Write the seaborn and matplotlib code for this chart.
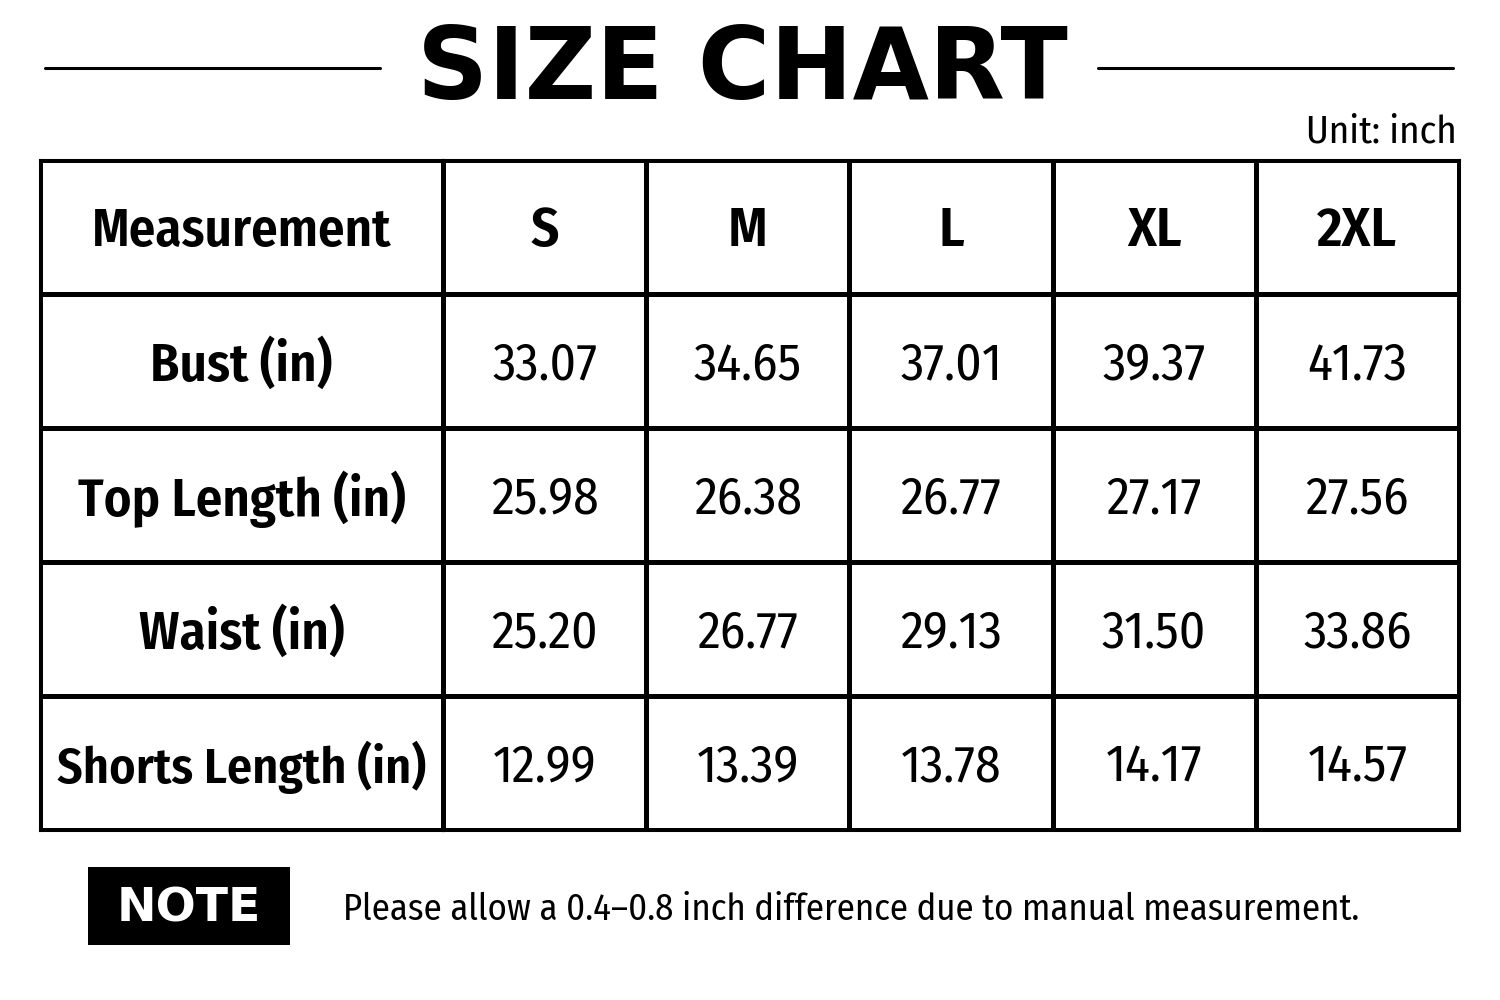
import numpy as np
import matplotlib
matplotlib.use("Agg")
import matplotlib.pyplot as plt
from matplotlib.colors import ListedColormap
from matplotlib.lines import Line2D
from matplotlib.patches import Rectangle
import seaborn as sns

sns.set_theme(style="white")
plt.rcParams['font.family'] = ['Fira Sans Condensed', 'DejaVu Sans']

# table data
measurements = ["Bust (in)", "Top Length (in)", "Waist (in)", "Shorts Length (in)"]
sizes = ["S", "M", "L", "XL", "2XL"]
bust = [33.07, 34.65, 37.01, 39.37, 41.73]
top_length = [25.98, 26.38, 26.77, 27.17, 27.56]
waist = [25.20, 26.77, 29.13, 31.50, 33.86]
shorts_length = [12.99, 13.39, 13.78, 14.17, 14.57]

values = np.array([bust, top_length, waist, shorts_length])

fig = plt.figure(figsize=(15, 10), dpi=100)
fig.patch.set_facecolor("white")

white = ListedColormap(["white"])
lw = 2.2

# first column (row labels)
ax_lab = fig.add_axes([40 / 1500, 0.17, 403 / 1500, 0.67])
lab_text = np.array([["Measurement"] + measurements]).T
sns.heatmap(np.zeros(lab_text.shape), ax=ax_lab, cmap=white, cbar=False,
            annot=lab_text, fmt="", linewidths=lw, linecolor="black",
            annot_kws={"fontsize": 38, "fontweight": "semibold", "color": "black"},
            xticklabels=False, yticklabels=False)
ax_lab.texts[-1].set_fontsize(36)

# size columns
ax_val = fig.add_axes([443 / 1500, 0.17, 1016 / 1500, 0.67])
val_text = np.vstack([sizes, [[f"{v:.2f}" for v in row] for row in values]])
sns.heatmap(np.zeros(val_text.shape), ax=ax_val, cmap=white, cbar=False,
            annot=val_text, fmt="", linewidths=lw, linecolor="black",
            annot_kws={"fontsize": 37, "color": "black"},
            xticklabels=False, yticklabels=False)
for t in ax_val.texts[:len(sizes)]:
    t.set_fontweight("semibold")
    t.set_fontsize(40)

# nudge labels a little lower in their cells
for ax in (ax_lab, ax_val):
    for t in ax.texts:
        x, y = t.get_position()
        t.set_position((x, y + 0.035))
    for s in ax.spines.values():
        s.set_visible(True)
        s.set_linewidth(lw)
        s.set_color("black")

# title with side rules
fig.text(742 / 1500, 0.929, "SIZE CHART", ha="center", va="center",
         fontsize=71, fontweight="bold", family="DejaVu Sans", color="black")
fig.add_artist(Line2D([45 / 1500, 380 / 1500], [0.932, 0.932], color="black", lw=2.2))
fig.add_artist(Line2D([1098 / 1500, 1453 / 1500], [0.932, 0.932], color="black", lw=2.2))

fig.text(1457 / 1500, 0.868, "Unit: inch", ha="right", va="center",
         fontsize=28, color="black")

# note
fig.add_artist(Rectangle((88 / 1500, 0.055), 202 / 1500, 0.078,
                         facecolor="black", edgecolor="none"))
fig.text(189 / 1500, 0.091, "NOTE", ha="center", va="center", color="white",
         fontsize=34, fontweight="bold", family="DejaVu Sans")
fig.text(343 / 1500, 0.09,
         "Please allow a 0.4\u20130.8 inch difference due to manual measurement.",
         ha="left", va="center", fontsize=26.4, color="black")

fig.savefig("out.png", dpi=100, facecolor="white")
